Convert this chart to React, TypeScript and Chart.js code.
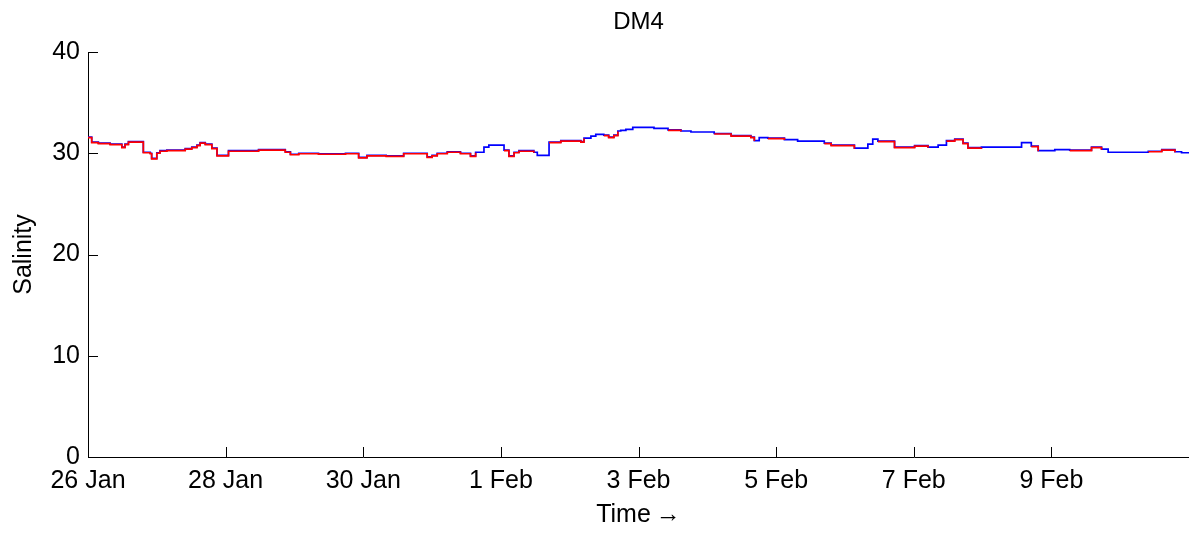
import React, { useEffect, useRef } from "react";
import { Chart, registerables } from "chart.js";

Chart.register(...registerables);

// time in hours since 26 Jan 00:00
const hours = [
  0, 1.3, 3.6, 7.7, 11.8, 12.9, 14.1, 19.3, 21.7, 22.2, 24, 25.1, 27.5, 33.9, 36.2, 38, 39.1, 40.9, 43.2, 45,
  49, 59.5, 68.8, 70.6, 73.5, 80.4, 89.8, 94.4, 97.3, 104, 110.1, 118.3, 120, 121.8, 125.3, 129.9, 133.4, 135.2, 138.1, 139.8,
  145.1, 146.8, 148.6, 150.3, 155.5, 156.7, 160.8, 164.9, 171.9, 173, 175.4, 177.1, 179.9, 181.6, 183.4, 184.8, 185.8, 187.6, 190, 197.4,
  202.3, 206.8, 210.3, 218.4, 224.3, 231.2, 232.4, 234.1, 237.1, 242.9, 247.5, 256.8, 259.2, 267.3, 272, 273.7, 275.5, 281.3, 288.3, 293,
  296.5, 299.4, 302.3, 305.2, 306.9, 311.6, 325.6, 329, 331.4, 337.2, 342.4, 350, 353.5, 355.8, 369.8, 374.5, 379.1, 381.4, 384,
];

const blueSalinity = [
  31.6, 31.1, 31.0, 30.9, 30.6, 30.9, 31.15, 30.1, 30.0, 29.5, 30.05, 30.25, 30.3, 30.45, 30.6, 30.8, 31.05, 30.9, 30.5, 29.8,
  30.25, 30.35, 30.15, 29.9, 30.0, 29.95, 30.0, 29.6, 29.8, 29.75, 30.0, 29.65, 29.8, 30.0, 30.15, 30.0, 29.75, 30.1, 30.6, 30.8,
  30.3, 29.75, 30.1, 30.25, 30.1, 29.8, 31.1, 31.25, 31.15, 31.5, 31.7, 31.87, 31.8, 31.6, 31.8, 32.2, 32.25, 32.35, 32.55, 32.45,
  32.3, 32.2, 32.1, 31.95, 31.75, 31.6, 31.25, 31.55, 31.5, 31.35, 31.2, 31.0, 30.8, 30.5, 30.9, 31.4, 31.2, 30.6, 30.75, 30.6,
  30.8, 31.25, 31.4, 31.0, 30.55, 30.6, 31.05, 30.7, 30.25, 30.35, 30.3, 30.6, 30.4, 30.1, 30.2, 30.35, 30.15, 30.05, 30.05,
];

const redSalinity: (number | null)[] = [
  31.55, 31.05, 30.95, 30.85, 30.55, 30.85, 31.1, 30.05, 29.95, 29.45, 30.0, 30.2, 30.25, 30.4, 30.55, 30.75, 31.0, 30.85, 30.45, 29.75,
  30.2, 30.3, 30.1, 29.85, 29.95, 29.9, 29.95, 29.55, 29.75, 29.7, 29.95, 29.6, 29.75, 29.95, 30.1, 29.95, 29.7, 30.05, null, null,
  30.25, 29.7, 30.05, 30.2, 30.05, null, 31.05, 31.2, 31.1, 31.45, null, null, 31.75, 31.55, 31.75, 32.15, null, null, null, null,
  32.25, 32.15, null, 31.9, 31.7, 31.55, 31.2, null, 31.45, 31.3, null, 30.95, 30.75, 30.45, null, null, 31.15, 30.55, 30.7, 30.55,
  null, 31.2, 31.35, 30.95, 30.5, 30.55, null, 30.65, 30.2, null, 30.25, 30.55, 30.35, null, 30.15, 30.3, 30.1, null, null,
];

const tickHours = [0, 48, 96, 144, 192, 240, 288, 336];
const tickLabels = ["26 Jan", "28 Jan", "30 Jan", "1 Feb", "3 Feb", "5 Feb", "7 Feb", "9 Feb"];
const yTicks = [0, 10, 20, 30, 40];

const FONT = "'Liberation Sans', Arial, Helvetica, sans-serif";

const inwardTicks = {
  id: "inwardTicks",
  afterDraw(chart: any) {
    const { ctx, chartArea, scales } = chart;
    ctx.save();
    ctx.strokeStyle = "#000";
    ctx.lineWidth = 1;
    ctx.beginPath();
    tickHours.forEach((h) => {
      const px = Math.round(scales.x.getPixelForValue(h)) + 0.5;
      ctx.moveTo(px, chartArea.bottom);
      ctx.lineTo(px, chartArea.bottom - 10);
    });
    yTicks.forEach((v) => {
      const py = Math.round(scales.y.getPixelForValue(v)) + 0.5;
      ctx.moveTo(chartArea.left, py);
      ctx.lineTo(chartArea.left + 10, py);
    });
    ctx.stroke();
    ctx.restore();
  },
};

export default function App() {
  const ref = useRef<HTMLCanvasElement>(null);

  useEffect(() => {
    document.body.style.margin = "0";
    const canvas = ref.current!;
    const chart = new Chart(canvas, {
      type: "line",
      data: {
        datasets: [
          {
            label: "red",
            data: hours.map((h, i) => ({ x: h, y: redSalinity[i] })) as any,
            borderColor: "#ff0000",
            borderWidth: 1.7,
            pointRadius: 0,
            stepped: true,
            spanGaps: false,
            fill: false,
          },
          {
            label: "blue",
            data: hours.map((h, i) => ({ x: h, y: blueSalinity[i] })),
            borderColor: "#0000ff",
            borderWidth: 1.7,
            pointRadius: 0,
            stepped: true,
            fill: false,
          },
        ],
      },
      options: {
        animation: false,
        responsive: false,
        devicePixelRatio: 1,
        layout: { padding: { left: 0, right: 0, top: 0, bottom: 0 } },
        plugins: {
          legend: { display: false },
          tooltip: { enabled: false },
          title: {
            display: true,
            fullSize: false,
            text: "DM4",
            color: "#000",
            font: { family: FONT, size: 24, weight: "normal", lineHeight: 1.2 },
            padding: { top: 8, bottom: 15.2 },
          },
        },
        scales: {
          x: {
            type: "linear",
            min: 0,
            max: 384,
            afterBuildTicks: (scale: any) => {
              scale.ticks = tickHours.map((v) => ({ value: v }));
            },
            afterFit: (scale: any) => {
              scale.height = 76;
            },
            ticks: {
              color: "#000",
              font: { family: FONT, size: 25 },
              padding: 9,
              maxRotation: 0,
              autoSkip: false,
              callback: (v: any) => {
                const i = tickHours.indexOf(Number(v));
                return i >= 0 ? tickLabels[i] : "";
              },
            },
            grid: { display: false, drawTicks: false },
            border: { display: true, color: "#000", width: 1 },
            title: {
              display: true,
              text: "Time\u2009\u2192",
              color: "#000",
              font: { family: FONT, size: 25, lineHeight: 1.2 },
              padding: { top: 0, bottom: 3 },
            },
          },
          y: {
            min: 0,
            max: 40,
            afterBuildTicks: (scale: any) => {
              scale.ticks = yTicks.map((v) => ({ value: v }));
            },
            afterFit: (scale: any) => {
              scale.width = 88;
            },
            ticks: {
              color: "#000",
              font: { family: FONT, size: 25 },
              padding: 8,
            },
            grid: { display: false, drawTicks: false },
            border: { display: true, color: "#000", width: 1 },
            title: {
              display: true,
              text: "Salinity",
              color: "#000",
              font: { family: FONT, size: 25, lineHeight: 1.2 },
              padding: { top: 9, bottom: 0 },
            },
          },
        },
      },
      plugins: [inwardTicks],
    });
    return () => chart.destroy();
  }, []);

  return (
    <div style={{ width: 1189, height: 533, background: "#fff" }}>
      <canvas ref={ref} width={1189} height={533} style={{ display: "block" }} />
    </div>
  );
}
